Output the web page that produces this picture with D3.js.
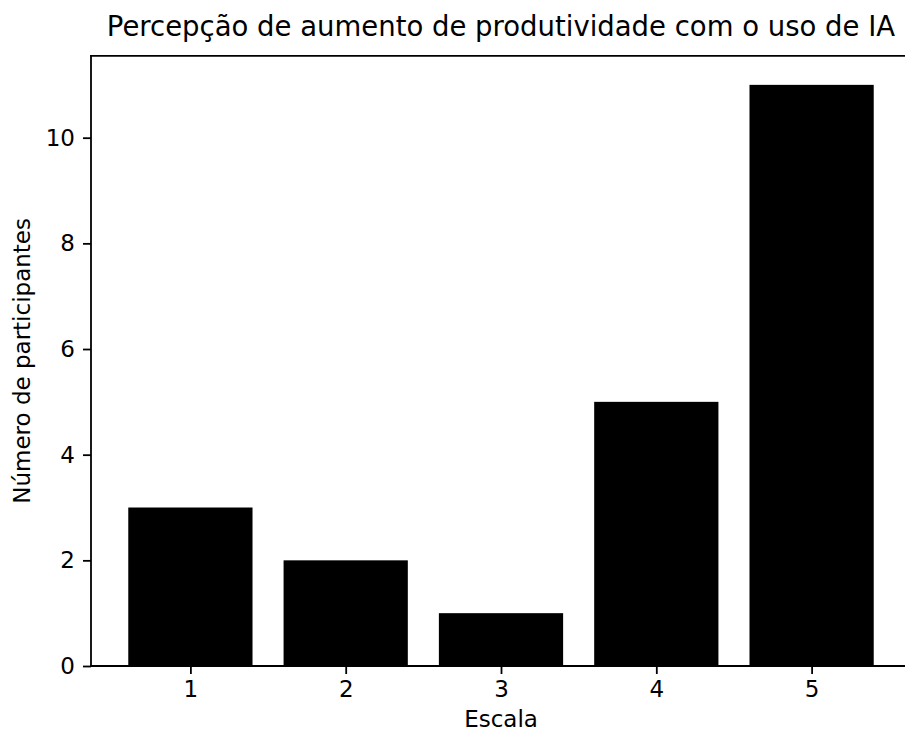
<!DOCTYPE html>
<html>
<head>
<meta charset="utf-8">
<script src="https://cdn.jsdelivr.net/npm/d3@7"></script>
<style>
  html, body { margin: 0; padding: 0; background: #fff; overflow: hidden; }
  svg { display: block; overflow: hidden; }
  text { font-family: "DejaVu Sans", sans-serif; fill: #000; }
</style>
</head>
<body>
<svg id="chart" width="905" height="732"></svg>
<script>
// Survey answers on a 1–5 scale and how many participants chose each
const categories = [1, 2, 3, 4, 5];
const counts = [3, 2, 1, 5, 11];
const yTicks = [0, 2, 4, 6, 8, 10];

const title = "Percepção de aumento de produtividade com o uso de IA";
const xLabel = "Escala";
const yLabel = "Número de participantes";

const W = 905, H = 732;
const svg = d3.select("#chart");
const plot = { left: 91, right: 911, top: 55.8, bottom: 666 };

const barWidth = 0.8;
const xMin = d3.min(categories) - barWidth / 2;
const xMax = d3.max(categories) + barWidth / 2;
const xPad = (xMax - xMin) * 0.05;
const x = d3.scaleLinear()
  .domain([xMin - xPad, xMax + xPad])
  .range([plot.left, plot.right]);

const yMax = d3.max(counts) * 1.05;
const y = d3.scaleLinear()
  .domain([0, yMax])
  .range([plot.bottom, plot.top]);

// Bars
svg.append("g")
  .selectAll("rect")
  .data(categories.map((c, i) => ({ c, v: counts[i] })))
  .join("rect")
  .attr("x", d => x(d.c - barWidth / 2))
  .attr("width", d => x(d.c + barWidth / 2) - x(d.c - barWidth / 2))
  .attr("y", d => y(d.v))
  .attr("height", d => y(0) - y(d.v))
  .attr("fill", "#000");

const fontSize = 23;

// Axes
const xAxis = d3.axisBottom(x)
  .tickValues(categories)
  .tickFormat(d3.format("d"))
  .tickSizeInner(8)
  .tickSizeOuter(0)
  .tickPadding(7);
const gx = svg.append("g")
  .attr("transform", `translate(0,${plot.bottom})`)
  .call(xAxis);

const yAxis = d3.axisLeft(y)
  .tickValues(yTicks)
  .tickFormat(d3.format("d"))
  .tickSizeInner(8)
  .tickSizeOuter(0)
  .tickPadding(8);
const gy = svg.append("g")
  .attr("transform", `translate(${plot.left},0)`)
  .call(yAxis);

[gx, gy].forEach(g => {
  g.selectAll(".domain").remove();
  g.selectAll(".tick line").attr("stroke", "#000").attr("stroke-width", 1.8);
  g.selectAll(".tick text")
    .style("font-family", "DejaVu Sans, sans-serif")
    .style("font-size", fontSize + "px")
    .attr("fill", "#000");
});

// Spines (the right one falls past the page edge)
const spines = [
  [plot.left, plot.top, plot.left, plot.bottom],
  [plot.left, plot.top, W, plot.top],
  [plot.left, plot.bottom, W, plot.bottom]
];
svg.append("g")
  .selectAll("line")
  .data(spines)
  .join("line")
  .attr("x1", d => d[0]).attr("y1", d => d[1])
  .attr("x2", d => d[2]).attr("y2", d => d[3])
  .attr("stroke", "#000")
  .attr("stroke-width", 1.8)
  .attr("stroke-linecap", "square");

// Titles
svg.append("text")
  .attr("x", (plot.left + plot.right) / 2)
  .attr("y", 36)
  .attr("text-anchor", "middle")
  .style("font-size", "27.5px")
  .text(title);

svg.append("text")
  .attr("x", (plot.left + plot.right) / 2)
  .attr("y", 727)
  .attr("text-anchor", "middle")
  .style("font-size", fontSize + "px")
  .text(xLabel);

svg.append("text")
  .attr("transform", `translate(30,${(plot.top + plot.bottom) / 2}) rotate(-90)`)
  .attr("text-anchor", "middle")
  .style("font-size", fontSize + "px")
  .text(yLabel);
</script>
</body>
</html>
